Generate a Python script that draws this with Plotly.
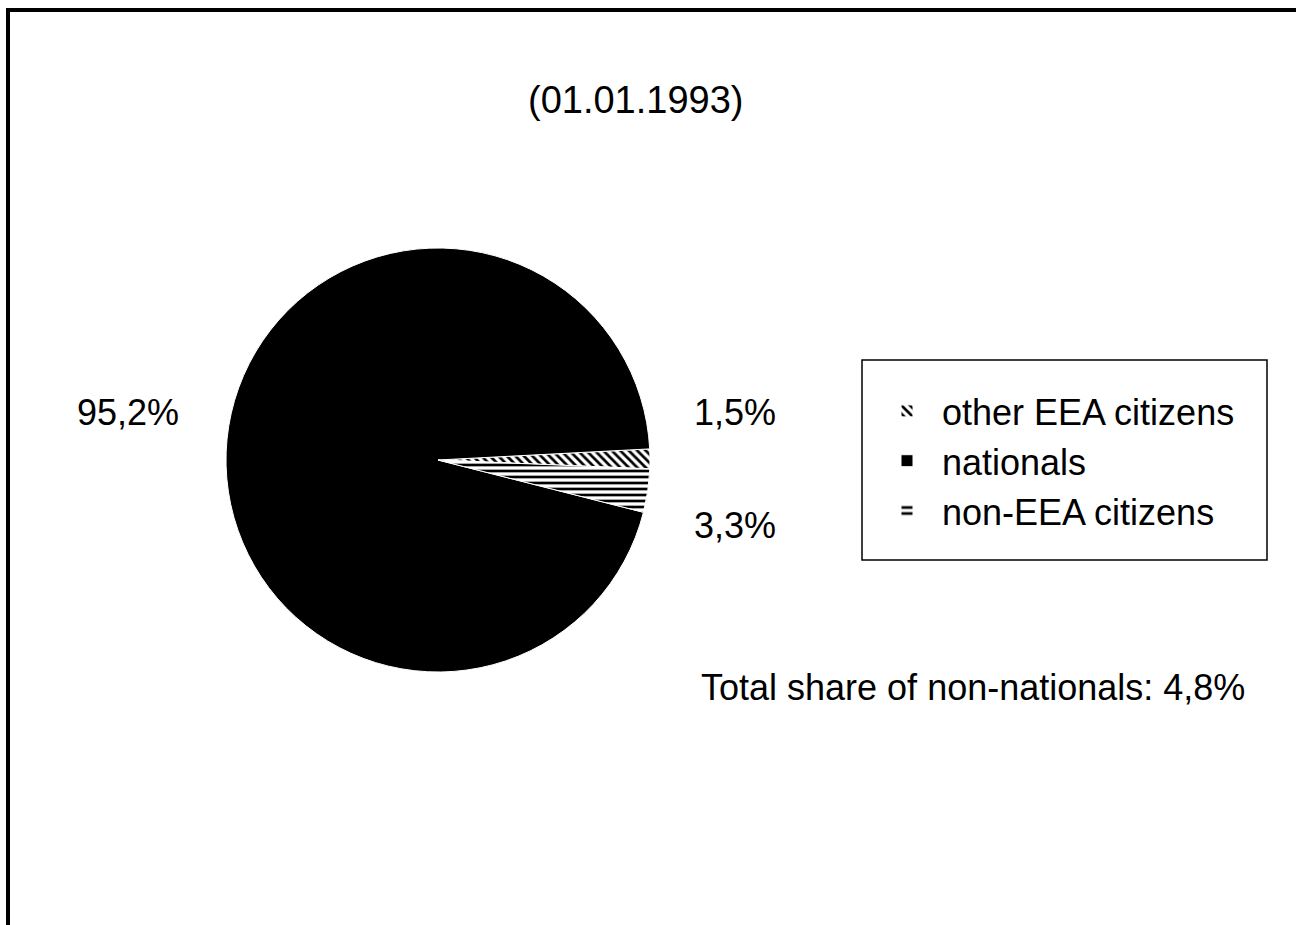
import plotly.graph_objects as go

W, H = 1296, 925

# ---- data ----
categories = ["other EEA citizens", "nationals", "non-EEA citizens"]
shares = [1.5, 95.2, 3.3]
title_text = "(01.01.1993)"
total_non_nationals = 4.8

FONT = "Liberation Sans, Arial, sans-serif"

def fmt(v):
    return f"{v:.1f}".replace(".", ",") + "%"

# pie placement (pixels -> paper)
cx, cy, r = 438, 460, 212

fig = go.Figure()
fig.add_trace(go.Pie(
    labels=categories,
    values=shares,
    sort=False,
    direction="counterclockwise",
    rotation=87,
    textinfo="none",
    hoverinfo="label+percent",
    marker=dict(
        colors=["white", "black", "white"],
        line=dict(color="white", width=1),
        pattern=dict(shape=["\\", "", "-"], fgcolor="black", bgcolor="white",
                     size=6, solidity=0.45, fillmode="replace"),
    ),
    domain=dict(x=[(cx - r) / W, (cx + r) / W], y=[1 - (cy + r) / H, 1 - (cy - r) / H]),
))

annotations = [
    dict(text=title_text, x=636 / W, y=1 - 100 / H, font_size=38),
    dict(text=fmt(shares[1]), x=128 / W, y=1 - 412 / H),
    dict(text=fmt(shares[0]), x=735 / W, y=1 - 412 / H),
    dict(text=fmt(shares[2]), x=735 / W, y=1 - 525 / H),
    dict(text="Total share of non-nationals: " + fmt(total_non_nationals), x=973 / W, y=1 - 687 / H),
]
for a in annotations:
    size = a.pop("font_size", 36)
    a.update(xref="paper", yref="paper", showarrow=False, xanchor="center", yanchor="middle",
             font=dict(family=FONT, size=size, color="black"))

fig.update_layout(
    width=W, height=H,
    margin=dict(l=0, r=0, t=0, b=0),
    paper_bgcolor="white",
    plot_bgcolor="white",
    font=dict(family=FONT, color="black"),
    annotations=annotations,
    showlegend=True,
    legend=dict(
        x=872 / W, y=1 - 461 / H, xanchor="left", yanchor="middle",
        borderwidth=0, bgcolor="rgba(0,0,0,0)",
        font=dict(family=FONT, size=36, color="black"),
        itemwidth=60,
        traceorder="normal",
    ),
    shapes=[
        dict(type="rect", xref="paper", yref="paper",
             x0=8 / W, x1=1.02, y0=-0.02, y1=1 - 10 / H,
             line=dict(color="black", width=4), fillcolor="rgba(0,0,0,0)"),
        dict(type="rect", xref="paper", yref="paper",
             x0=862 / W, x1=1267 / W, y0=1 - 560 / H, y1=1 - 360 / H,
             line=dict(color="black", width=1.5), fillcolor="rgba(0,0,0,0)", layer="below"),
    ],
)

fig.write_html("out.html")
